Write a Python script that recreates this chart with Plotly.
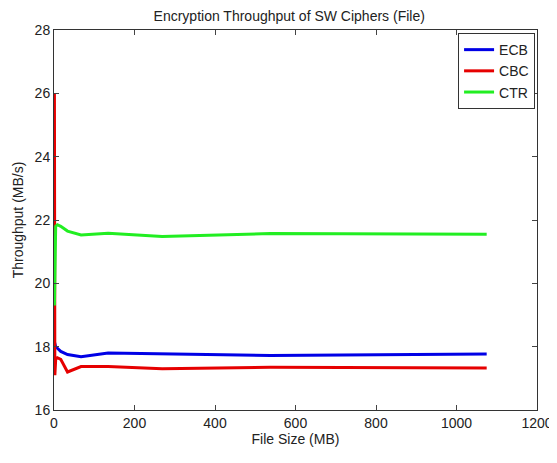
import plotly.graph_objects as go

file_size = [1.05, 2.1, 4.2, 8.4, 16.8, 33.6, 67.2, 134.4, 268.8, 537.5, 1075]
ecb = [18.15, 18.05, 18.0, 17.95, 17.85, 17.75, 17.68, 17.8, 17.77, 17.72, 17.77]
cbc = [26.0, 17.1, 17.6, 17.65, 17.6, 17.2, 17.37, 17.37, 17.3, 17.35, 17.33]
ctr = [19.3, 21.1, 21.8, 21.85, 21.8, 21.65, 21.53, 21.58, 21.48, 21.57, 21.55]

x_ticks = [0, 200, 400, 600, 800, 1000, 1200]
y_ticks = [16, 18, 20, 22, 24, 26, 28]

fig = go.Figure()
fig.add_trace(go.Scatter(x=file_size, y=ecb, mode="lines", name="ECB",
                         line=dict(color="#0000e6", width=3)))
fig.add_trace(go.Scatter(x=file_size, y=cbc, mode="lines", name="CBC",
                         line=dict(color="#e60000", width=3)))
fig.add_trace(go.Scatter(x=file_size, y=ctr, mode="lines", name="CTR",
                         line=dict(color="#22ee22", width=3)))

font = "Liberation Sans, Arial, Helvetica, sans-serif"
# page body adds an 8px offset; figure sized to fit the 557x463 window
fig.update_layout(
    width=549, height=455,
    margin=dict(l=46, r=20, t=22, b=53),
    paper_bgcolor="white", plot_bgcolor="white",
    font=dict(family=font, size=14, color="#222"),
    title=dict(text="Encryption Throughput of SW Ciphers (File)", x=0.487, xanchor="center",
               xref="paper", y=0.982, yanchor="middle", font=dict(size=14, color="#222")),
    showlegend=True,
    legend=dict(x=0.996, xanchor="right", y=0.992, yanchor="top",
                bgcolor="white", bordercolor="#333", borderwidth=1,
                font=dict(size=14, color="#222"), tracegroupgap=0),
)
fig.update_xaxes(range=[0, 1200], tickvals=x_ticks, ticks="inside", ticklen=5,
                 showline=True, linecolor="#333", linewidth=1, mirror="ticks",
                 showgrid=False, zeroline=False, automargin=False,
                 tickfont=dict(size=14),
                 title=dict(text="File Size (MB)", standoff=3, font=dict(size=14)))
fig.update_yaxes(range=[16, 28], tickvals=y_ticks, ticks="inside", ticklen=5,
                 showline=True, linecolor="#333", linewidth=1, mirror="ticks",
                 showgrid=False, zeroline=False, automargin=False,
                 tickfont=dict(size=14),
                 title=dict(text="Throughput (MB/s)", standoff=7, font=dict(size=14)))

fig.write_html("out.html")
